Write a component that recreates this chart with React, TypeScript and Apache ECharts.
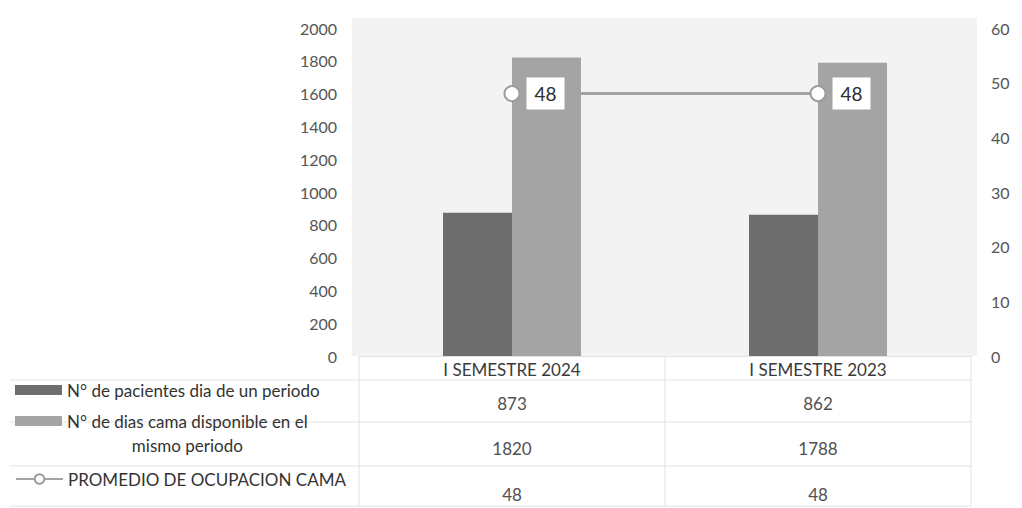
import React, { useEffect, useRef } from "react";
import * as echarts from "echarts";

const categories = ["I SEMESTRE 2024", "I SEMESTRE 2023"];
const pacientes = [873, 862];
const diasCama = [1820, 1788];
const promedio = [48, 48];

const seriesNames = [
  "N° de pacientes dia de un periodo",
  "N° de dias cama disponible en el mismo periodo",
  "PROMEDIO DE OCUPACION CAMA",
];

const FONT = "Lato";

export default function App() {
  const ref = useRef<HTMLDivElement>(null);

  useEffect(() => {
    if (!ref.current) return;
    const chart = echarts.init(ref.current, undefined, { renderer: "svg" });

    const faint = "#e3e3e3";
    const option: any = {
      animation: false,
      backgroundColor: "#ffffff",
      textStyle: { fontFamily: FONT },
      grid: {
        left: 359,
        right: 51,
        top: 28,
        bottom: 152,
        containLabel: false,
        outerBoundsMode: "none",
      },
      legend: [
        {
          data: [seriesNames[0]],
          left: 15,
          top: 378,
          padding: 0,
          icon: "rect",
          itemWidth: 47,
          itemHeight: 10,
          itemGap: 0,
          textStyle: { fontSize: 17, color: "#333", lineHeight: 24, fontFamily: FONT },
        },
        {
          data: [seriesNames[1]],
          left: 15,
          top: 385,
          padding: 0,
          icon: "rect",
          itemWidth: 47,
          itemHeight: 10,
          itemGap: 0,
          formatter: () => "{a|N° de dias cama disponible en el}\n{b|mismo periodo}",
          textStyle: {
            fontSize: 17,
            color: "#333",
            lineHeight: 24,
            fontFamily: FONT,
            padding: [24, 0, 0, 0],
            rich: {
              a: { fontSize: 17, color: "#333", lineHeight: 24, fontFamily: FONT },
              b: { fontSize: 17, color: "#333", lineHeight: 24, fontFamily: FONT, align: "center" },
            },
          },
        },
        {
          data: [seriesNames[2]],
          left: 15,
          top: 467,
          padding: 0,
          itemWidth: 47,
          itemHeight: 12,
          itemGap: 0,
          textStyle: { fontSize: 17, color: "#333", lineHeight: 24, fontFamily: FONT },
        },
      ],
      graphic: [
        {
          type: "rect",
          z: -100,
          silent: true,
          shape: { x: 352, y: 18, width: 625, height: 338 },
          style: { fill: "#f3f3f3" },
        },
        ...[380, 422, 466, 506].map((y) => ({
          type: "line",
          z: -50,
          silent: true,
          shape: { x1: 10, y1: y, x2: 971, y2: y },
          style: { stroke: faint, lineWidth: 1 },
        })),
        ...[359, 665, 971].map((x) => ({
          type: "line",
          z: -50,
          silent: true,
          shape: { x1: x, y1: 356, x2: x, y2: 506 },
          style: { stroke: faint, lineWidth: 1 },
        })),
      ],
      xAxis: {
        type: "category",
        data: categories,
        axisTick: { show: false },
        axisLine: { show: true, lineStyle: { color: "#e3e3e3", width: 1 } },
        axisLabel: {
          interval: 0,
          margin: 1,
          formatter: (v: string, i: number) =>
            `{cat|${v}}\n{r1|${pacientes[i]}}\n{r2|${diasCama[i]}}\n{r3|${promedio[i]}}`,
          rich: {
            cat: { fontSize: 17, lineHeight: 24, color: "#3a3a3a", fontFamily: FONT },
            r1: { fontSize: 17, lineHeight: 44, color: "#505050", fontFamily: FONT },
            r2: { fontSize: 17, lineHeight: 46, color: "#505050", fontFamily: FONT },
            r3: { fontSize: 17, lineHeight: 46, color: "#505050", fontFamily: FONT },
          },
        },
      },
      yAxis: [
        {
          type: "value",
          min: 0,
          max: 2000,
          interval: 200,
          splitLine: { show: false },
          axisLine: { show: false },
          axisTick: { show: false },
          axisLabel: {
            fontSize: 16,
            color: "#555",
            margin: 22,
            fontFamily: FONT,
            formatter: (v: number) => String(v),
          },
        },
        {
          type: "value",
          position: "right",
          min: 0,
          max: 60,
          interval: 10,
          splitLine: { show: false },
          axisLine: { show: false },
          axisTick: { show: false },
          axisLabel: {
            fontSize: 16,
            color: "#555",
            margin: 20,
            fontFamily: FONT,
            formatter: (v: number) => String(v),
          },
        },
      ],
      series: [
        {
          name: seriesNames[0],
          type: "bar",
          data: pacientes,
          barWidth: 69,
          barGap: "0%",
          itemStyle: { color: "#6d6d6d" },
        },
        {
          name: seriesNames[1],
          type: "bar",
          data: diasCama,
          barWidth: 69,
          barGap: "0%",
          itemStyle: { color: "#a4a4a4" },
        },
        {
          name: seriesNames[2],
          type: "line",
          yAxisIndex: 1,
          data: promedio,
          z: 5,
          symbol: "circle",
          symbolSize: 15,
          lineStyle: { color: "#a3a3a3", width: 3 },
          itemStyle: { color: "#ffffff", borderColor: "#9c9c9c", borderWidth: 2 },
          label: {
            show: true,
            position: "right",
            distance: 6,
            backgroundColor: "#ffffff",
            padding: [7, 8, 6, 8],
            fontSize: 19,
            color: "#2e2e2e",
            fontFamily: FONT,
          },
        },
      ],
    };

    chart.setOption(option);
    return () => chart.dispose();
  }, []);

  return (
    <div
      ref={ref}
      style={{ position: "fixed", left: 0, top: 0, width: 1022, height: 508 }}
    />
  );
}
